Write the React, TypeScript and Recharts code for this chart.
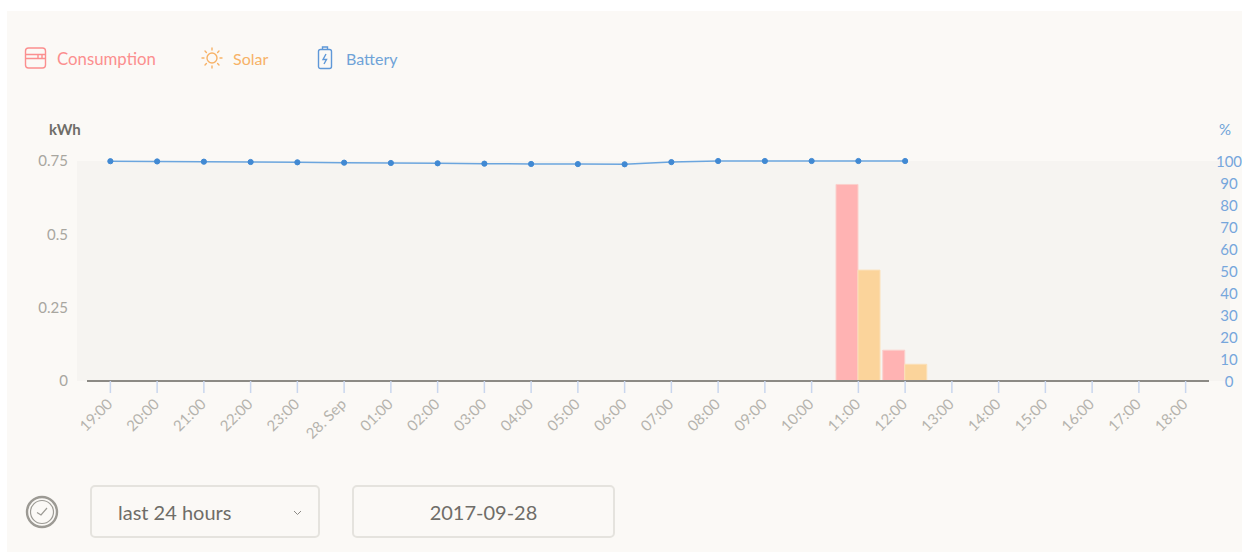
import { ComposedChart, Bar, Line, XAxis, YAxis } from "recharts";

const hours = ["19:00", "20:00", "21:00", "22:00", "23:00", "28. Sep", "01:00", "02:00", "03:00", "04:00", "05:00", "06:00", "07:00", "08:00", "09:00", "10:00", "11:00", "12:00", "13:00", "14:00", "15:00", "16:00", "17:00", "18:00"];
const consumption = [0, 0, 0, 0, 0, 0, 0, 0, 0, 0, 0, 0, 0, 0, 0, 0, 0.67, 0.105, 0, 0, 0, 0, 0, 0];
const solar = [0, 0, 0, 0, 0, 0, 0, 0, 0, 0, 0, 0, 0, 0, 0, 0, 0.378, 0.057, 0, 0, 0, 0, 0, 0];
const battery = [99.9, 99.8, 99.7, 99.55, 99.4, 99.25, 99.1, 98.95, 98.8, 98.65, 98.6, 98.5, 99.5, 100, 100, 100, 100, 100, null, null, null, null, null, null];
const kwhTicks = [0, 0.25, 0.5, 0.75];
const percentTicks = [0, 10, 20, 30, 40, 50, 60, 70, 80, 90, 100];

const rows = hours.map((hour, i) => ({
  hour,
  consumption: consumption[i],
  solar: solar[i],
  battery: battery[i],
}));

const FONT = "Lato, 'Open Sans', sans-serif";

const HourTick = ({ x, y, payload }: any) => (
  <text x={x + 3} y={y + 10} fontSize={15} fill="#b5b3ad" textAnchor="end" transform={`rotate(-45 ${x + 3} ${y + 10})`}>
    {payload.value}
  </text>
);

const PercentTick = ({ y, payload }: any) => (
  <text x={1229} y={y + 6} fontSize={15} fill="#76a6dc" textAnchor="middle">
    {payload.value}
  </text>
);

const ConsumptionIcon = () => (
  <svg width="24" height="24" viewBox="0 0 24 24" fill="none" stroke="#fb8f8f" strokeWidth="1.4">
    <rect x="1.5" y="2" width="20" height="20" rx="3" />
    <path d="M1.5 8.5H21.5M1.5 12.5H21.5M14 8.5V12.5M18 8.5V12.5" />
  </svg>
);

const SolarIcon = () => (
  <svg width="24" height="24" viewBox="0 0 24 24" fill="none" stroke="#f7b267" strokeWidth="1.4" strokeLinecap="round">
    <circle cx="12" cy="12" r="5" />
    <path d="M12 2V4M12 20V22M2 12H4M20 12H22M5 5L6.4 6.4M17.6 17.6L19 19M5 19L6.4 17.6M17.6 6.4L19 5" />
  </svg>
);

const BatteryIcon = () => (
  <svg width="16" height="24" viewBox="0 0 16 24" fill="none" stroke="#5f98d8" strokeWidth="1.4">
    <rect x="1.5" y="3.5" width="13" height="19" rx="2" />
    <path d="M5.5 3.5V1H10.5V3.5" />
    <path d="M9 8L6 13.5H9.5L7 18" />
  </svg>
);

const ClockIcon = () => (
  <svg width="34" height="34" viewBox="0 0 34 34" fill="none" stroke="#9c9a94">
    <circle cx="17" cy="17" r="15" strokeWidth="2.4" />
    <circle cx="17" cy="17" r="11.5" strokeWidth="1.2" />
    <path d="M12 17.5L16 20L22 13" strokeWidth="1.2" />
  </svg>
);

const boxStyle: React.CSSProperties = {
  position: "absolute",
  top: 485,
  height: 49,
  border: "2px solid #e5e3de",
  borderRadius: 5,
  boxSizing: "content-box",
  lineHeight: "50px",
  fontSize: 20,
  color: "#6f6d68",
};

const place = (left: number, top: number, color: string, size = 16, weight = 400): React.CSSProperties => ({
  position: "absolute",
  left,
  top,
  color,
  fontSize: size,
  fontWeight: weight,
  lineHeight: "20px",
  whiteSpace: "nowrap",
});

export default function App() {
  return (
    <div style={{ position: "absolute", left: 0, top: 0, width: 1242, height: 552, overflow: "hidden", background: "#ffffff", fontFamily: FONT }}>
      <div style={{ position: "absolute", left: 7, top: 11, width: 1235, height: 541, background: "#fbf9f6" }} />
      <div style={{ position: "absolute", left: 77, top: 161, width: 1153, height: 220, background: "#f6f4f1" }} />

      <div style={{ position: "absolute", left: 24, top: 46 }}><ConsumptionIcon /></div>
      <div style={place(57, 49, "#fb8f8f", 16.8)}>Consumption</div>
      <div style={{ position: "absolute", left: 200, top: 46 }}><SolarIcon /></div>
      <div style={place(233, 49, "#f7b267")}>Solar</div>
      <div style={{ position: "absolute", left: 317, top: 46 }}><BatteryIcon /></div>
      <div style={place(346, 49, "#6fa3d8")}>Battery</div>

      <div style={place(49, 119, "#6f6d68", 15, 700)}>kWh</div>
      <div style={place(1219, 119, "#6fa3d8", 15, 400)}>%</div>

      <div style={{ position: "absolute", left: 0, top: 0 }}>
        <ComposedChart
          width={1242}
          height={470}
          data={rows}
          barCategoryGap={1}
          barGap={0}
          margin={{ top: 161, right: 0, bottom: 0, left: 8 }}
        >
          <XAxis
            dataKey="hour"
            interval={0}
            height={89}
            tick={<HourTick />}
            tickSize={12}
            tickLine={{ stroke: "#c9d6ee", strokeWidth: 1.5 }}
            axisLine={{ stroke: "#8c8a85", strokeWidth: 2 }}
          />
          <YAxis
            yAxisId="kwh"
            width={79}
            domain={[0, 0.75]}
            ticks={kwhTicks}
            axisLine={false}
            tickLine={false}
            tickSize={0}
            tickMargin={19}
            tick={{ fontSize: 15, fill: "#a8a6a0" }}
            tickFormatter={(v: number) => String(v)}
          />
          <YAxis
            yAxisId="percent"
            orientation="right"
            width={33}
            domain={[0, 100]}
            ticks={percentTicks}
            interval={0}
            axisLine={false}
            tickLine={false}
            tick={<PercentTick />}
          />
          <Bar yAxisId="kwh" dataKey="consumption" fill="#ffb3b3" stroke="#fbd0cc" strokeWidth={1} isAnimationActive={false} />
          <Bar yAxisId="kwh" dataKey="solar" fill="#fbd49b" stroke="#fbe0b8" strokeWidth={1} isAnimationActive={false} />
          <Line
            yAxisId="percent"
            dataKey="battery"
            type="linear"
            stroke="#6ba5de"
            strokeWidth={1.5}
            dot={{ r: 2.6, fill: "#4189d3", stroke: "#4189d3", strokeWidth: 1 }}
            activeDot={false}
            isAnimationActive={false}
          />
        </ComposedChart>
      </div>

      <div style={{ position: "absolute", left: 25, top: 495 }}><ClockIcon /></div>
      <div style={{ ...boxStyle, left: 90, width: 226 }}>
        <span style={{ position: "absolute", left: 26, top: 0 }}>last 24 hours</span>
        <svg style={{ position: "absolute", left: 201, top: 23 }} width="9" height="6" viewBox="0 0 9 6" fill="none" stroke="#8c8a85" strokeWidth="1">
          <path d="M1 1L4.5 4.5L8 1" />
        </svg>
      </div>
      <div style={{ ...boxStyle, left: 352, width: 259, textAlign: "center" }}>2017-09-28</div>
    </div>
  );
}
